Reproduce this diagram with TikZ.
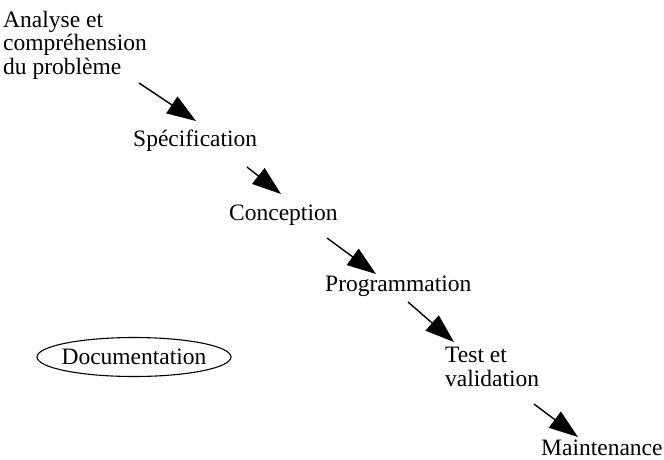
\documentclass[tikz,border=0pt]{standalone}
\usepackage{fontspec}
\setmainfont{Liberation Serif}
\usetikzlibrary{arrows.meta,shapes.geometric}
\tikzset{
  lbl/.style={inner sep=0pt, font=\fontsize{23.5}{23.5}\selectfont, align=left},
  arr/.style={line width=1.4pt, -{Triangle[length=29pt,width=20pt]}},
}
\begin{document}
\begin{tikzpicture}[x=1pt,y=-1pt]
\useasboundingbox (0,0) rectangle (664,459);
\node[lbl, anchor=base west] (ana) at (3,74) {Analyse et\\compréhension\\du problème};
\node[lbl, anchor=base west] (spec) at (133,146) {Spécification};
\node[lbl, anchor=base west] (conc) at (229,220) {Conception};
\node[lbl, anchor=base west] (prog) at (325,291) {Programmation};
\node[lbl, anchor=base west] (test) at (445,386) {Test et\\validation};
\node[lbl, anchor=base west] (maint) at (541,455) {Maintenance};
\node[lbl] (doc) at (134,357) {Documentation};
\draw[line width=1.1pt] (doc.center) ellipse [x radius=97pt, y radius=19.5pt];
\coordinate (s1) at (139,83); \coordinate (e1) at (196,121);
\coordinate (s2) at (247,167); \coordinate (e2) at (281,194);
\coordinate (s3) at (327,238); \coordinate (e3) at (376,274);
\coordinate (s4) at (408,302); \coordinate (e4) at (454,342);
\coordinate (s5) at (534,404); \coordinate (e5) at (578,437);
\draw[arr] (s1) -- (e1);
\draw[arr] (s2) -- (e2);
\draw[arr] (s3) -- (e3);
\draw[arr] (s4) -- (e4);
\draw[arr] (s5) -- (e5);
\end{tikzpicture}
\end{document}
